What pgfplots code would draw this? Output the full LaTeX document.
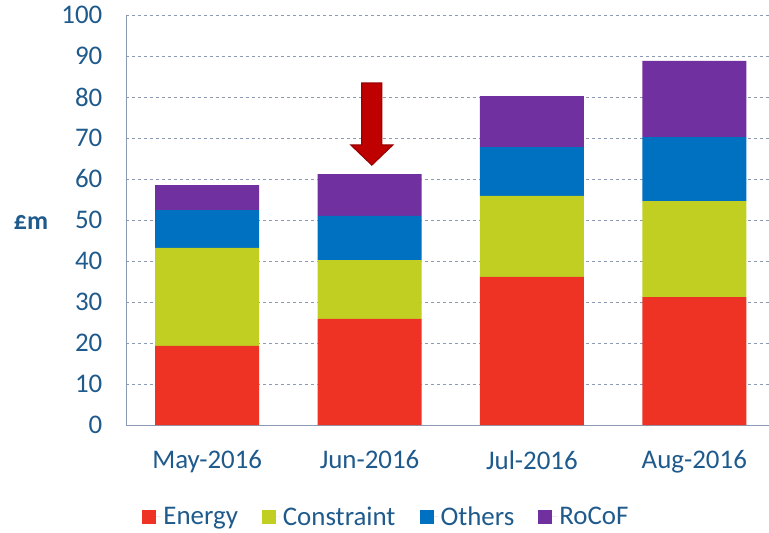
\documentclass[border=0pt]{standalone}
\usepackage{pgfplots}
\pgfplotsset{compat=1.18}
\usepackage{fontspec}
\setmainfont{Carlito}
\definecolor{cEnergy}{HTML}{EE3224}
\definecolor{cConstr}{HTML}{C0CF22}
\definecolor{cOthers}{HTML}{0070C0}
\definecolor{cRocof}{HTML}{7030A0}
\definecolor{txt}{HTML}{1F5A8C}
\definecolor{axl}{HTML}{8C9AB4}
\begin{document}
\begin{tikzpicture}
\useasboundingbox (-126bp,-108bp) rectangle (643bp,425bp);
\begin{axis}[
    at={(0,0)}, anchor=south west,
    scale only axis, width=643bp, height=410bp,
    ybar stacked, bar width=0.64,
    xmin=-0.5, xmax=3.46, ymin=0, ymax=100,
    axis x line=bottom, axis y line=left,
    axis line style={-, draw=axl, line width=0.8pt},
    xtick={0,1,2,3},
    xticklabels={May-2016,Jun-2016,Jul-2016,Aug-2016},
    major x tick style={draw=none},
    extra x ticks={-0.5,0.5,1.5,2.5},
    extra x tick labels={},
    extra x tick style={tick style={draw=axl, line width=0.8pt}, major tick length=8bp, tick align=outside},
    ytick={0,10,...,100},
    major y tick style={draw=none},
    ymajorgrids=true,
    grid style={dashed, draw=axl, line width=0.7pt},
    tick label style={font=\fontsize{27}{32}\selectfont, text=txt},
    /pgf/number format/assume math mode=true,
    xticklabel style={yshift=-20bp},
    yticklabel style={xshift=-18bp},
    ylabel={\textbf{£m}},
    ylabel style={rotate=-90, font=\fontsize{26}{30}\selectfont, text=txt, at={(rel axis cs:0,0.5)}, anchor=center, xshift=-95bp, yshift=-2bp},
    legend style={at={(0.405,-0.224)}, anchor=center, draw=none, fill=none,
        legend columns=-1, font=\fontsize{27}{32}\selectfont, text=txt,
        /tikz/every even column/.append style={column sep=22bp},
        /tikz/every odd column/.append style={column sep=0bp}},
    legend image code/.code={\fill[#1] (0bp,-7bp) rectangle (14bp,7bp); \path (0bp,0bp) -- (19bp,0bp);},
]
\addplot[fill=cEnergy, draw=none] coordinates {(0,19.3) (1,25.9) (2,36.1) (3,31.2)};
\addplot[fill=cConstr, draw=none] coordinates {(0,23.9) (1,14.3) (2,19.8) (3,23.4)};
\addplot[fill=cOthers, draw=none] coordinates {(0,9.2) (1,10.8) (2,11.9) (3,15.6)};
\addplot[fill=cRocof, draw=none] coordinates {(0,6.1) (1,10.2) (2,12.4) (3,18.6)};
\legend{Energy,Constraint,Others,RoCoF}
\draw[fill=red!75!black, draw=red!60!black, line width=1.2pt]
  (axis cs:0.952,83.4) -- (axis cs:1.076,83.4) -- (axis cs:1.076,68.3)
  -- (axis cs:1.143,68.3) -- (axis cs:1.014,63.4) -- (axis cs:0.885,68.3)
  -- (axis cs:0.952,68.3) -- cycle;
\end{axis}
\end{tikzpicture}
\end{document}
